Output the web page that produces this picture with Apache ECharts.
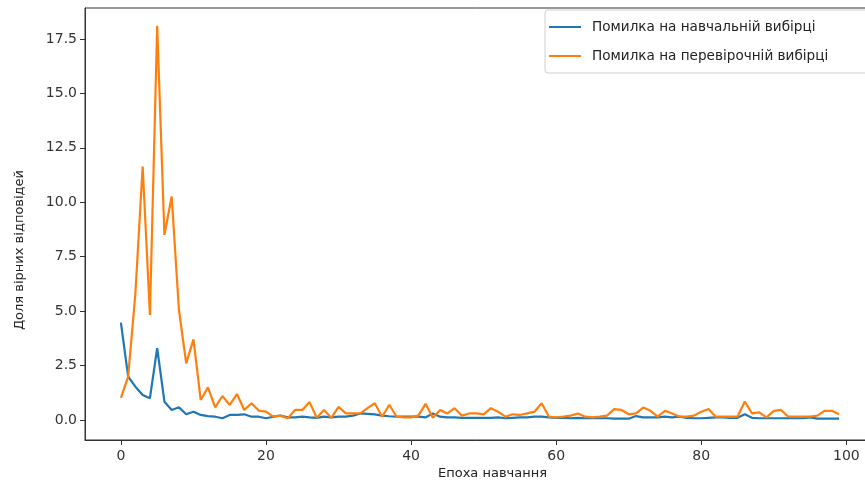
<!DOCTYPE html>
<html>
<head>
<meta charset="utf-8">
<script src="https://cdn.jsdelivr.net/npm/echarts@6/dist/echarts.min.js"></script>
<style>html,body{margin:0;padding:0;background:#fff;overflow:hidden}#c{width:865px;height:483px}</style>
</head>
<body>
<div id="c"></div>
<script>
const seriesNames = ['Помилка на навчальній вибірці', 'Помилка на перевірочній вибірці'];
const xTicks = [0, 20, 40, 60, 80, 100];
const yTicks = [0, 2.5, 5, 7.5, 10, 12.5, 15, 17.5];
const epochs = Array.from({length: 100}, (_, i) => i);
const trainLoss = [4.47,1.99,1.53,1.15,1.0,3.3,0.84,0.46,0.58,0.26,
0.38,0.23,0.18,0.15,0.08,0.23,0.23,0.26,0.15,0.15,
0.08,0.15,0.2,0.12,0.12,0.15,0.12,0.1,0.15,0.12,
0.15,0.15,0.2,0.3,0.28,0.26,0.2,0.17,0.15,0.15,
0.15,0.15,0.12,0.3,0.15,0.12,0.12,0.1,0.1,0.1,
0.1,0.1,0.12,0.08,0.1,0.12,0.12,0.15,0.15,0.12,
0.1,0.1,0.08,0.1,0.08,0.1,0.08,0.08,0.06,0.06,
0.06,0.18,0.12,0.12,0.12,0.15,0.12,0.15,0.1,0.08,
0.08,0.1,0.12,0.12,0.1,0.1,0.26,0.1,0.08,0.08,
0.08,0.08,0.08,0.08,0.08,0.12,0.06,0.06,0.06,0.06];
const valLoss = [1.01,1.99,5.83,11.64,4.82,18.1,8.5,10.26,5.05,2.6,
3.7,0.92,1.5,0.58,1.1,0.69,1.19,0.46,0.77,0.43,
0.38,0.15,0.2,0.08,0.46,0.46,0.82,0.1,0.46,0.1,
0.6,0.3,0.3,0.3,0.54,0.77,0.15,0.7,0.15,0.12,
0.12,0.2,0.74,0.1,0.46,0.3,0.54,0.2,0.3,0.3,
0.26,0.54,0.38,0.15,0.26,0.23,0.3,0.38,0.77,0.15,
0.12,0.15,0.2,0.3,0.15,0.12,0.15,0.2,0.5,0.46,
0.26,0.3,0.57,0.42,0.15,0.42,0.3,0.15,0.15,0.2,
0.38,0.5,0.15,0.15,0.15,0.15,0.85,0.3,0.35,0.12,
0.42,0.46,0.15,0.15,0.15,0.15,0.2,0.42,0.42,0.26];
const xTitle = 'Епоха навчання';
const yTitle = 'Доля вірних відповідей';

const font = 'DejaVu Sans';
const chart = echarts.init(document.getElementById('c'), null, {renderer: 'canvas'});
chart.setOption({
  animation: false,
  backgroundColor: '#fff',
  grid: {left: 85, width: 790, top: 8, height: 432, show: true, borderColor: '#333', borderWidth: 1, backgroundColor: 'transparent', containLabel: false, outerBoundsMode: 'none'},
  legend: {
    orient: 'vertical', left: 545, top: 10,
    data: seriesNames.map(n => ({name: n, icon: 'rect'})),
    itemWidth: 32, itemHeight: 2, itemGap: 15,
    padding: [10, 60, 10, 4],
    borderColor: '#d0d0d0', borderWidth: 1, borderRadius: 3, backgroundColor: '#fff',
    textStyle: {fontFamily: font, fontSize: 13.6, color: '#222', padding: [0, 0, 0, 6]}
  },
  xAxis: {
    type: 'value', min: -4.95, max: 103.95,
    axisLine: {show: true, onZero: false, lineStyle: {color: '#333'}},
    axisTick: {show: true, length: 5, lineStyle: {color: '#333'}, customValues: xTicks},
    axisLabel: {fontFamily: font, fontSize: 14, color: '#333', margin: 9, customValues: xTicks},
    splitLine: {show: false}
  },
  yAxis: {
    type: 'value', min: -0.92, max: 18.92,
    axisLine: {show: true, onZero: false, lineStyle: {color: '#333'}},
    axisTick: {show: true, length: 5, lineStyle: {color: '#333'}, customValues: yTicks},
    axisLabel: {fontFamily: font, fontSize: 14, color: '#333', margin: 8, customValues: yTicks, formatter: v => v.toFixed(1)},
    splitLine: {show: false}
  },
  graphic: [
    {type: 'text', left: 438, top: 467, style: {text: xTitle, font: '13px "DejaVu Sans"', fill: '#222'}},
    {type: 'text', x: 20, y: 250, rotation: Math.PI / 2, style: {text: yTitle, font: '13px "DejaVu Sans"', fill: '#222', align: 'center', verticalAlign: 'middle'}}
  ],
  series: [
    {name: seriesNames[0], type: 'line', data: epochs.map((e, i) => [e, trainLoss[i]]), showSymbol: false, lineStyle: {width: 2.2, color: '#1f77b4'}, itemStyle: {color: '#1f77b4'}},
    {name: seriesNames[1], type: 'line', data: epochs.map((e, i) => [e, valLoss[i]]), showSymbol: false, lineStyle: {width: 2.2, color: '#ff7f0e'}, itemStyle: {color: '#ff7f0e'}}
  ]
});
</script>
</body>
</html>
